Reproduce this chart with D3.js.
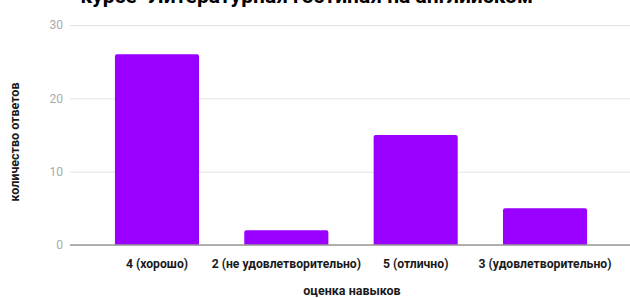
<!DOCTYPE html>
<html>
<head>
<meta charset="utf-8">
<script src="https://cdn.jsdelivr.net/npm/d3@7"></script>
<style>
  body { margin: 0; background: #fff; }
  svg text { font-family: Roboto, "Noto Sans", sans-serif; }
</style>
</head>
<body>
<svg id="chart" width="630" height="298"></svg>
<script>
"use strict";

// chart data
const categories = ["4 (хорошо)", "2 (не удовлетворительно)", "5 (отлично)", "3 (удовлетворительно)"];
const answers = [26, 2, 15, 5];
const yTicks = [0, 10, 20, 30];
const title = "курсе \"Литературная гостиная на английском\"";
const xTitle = "оценка навыков";
const yTitle = "количество ответов";

const svg = d3.select("#chart");

let x = d3.scaleBand()
  .domain(categories)
  .range([92.3, 609.7])
  .paddingInner(0.35)
  .paddingOuter(0.175);

let y = d3.scaleLinear().domain([0, 30]).range([245, 25]);

// gridlines + tick labels
let yAxis = d3.axisLeft(y).tickValues(yTicks).tickSize(-560).tickPadding(7);
let gy = svg.append("g").attr("transform", "translate(70,0)").call(yAxis);
gy.select(".domain").remove();
gy.selectAll(".tick line").attr("stroke", "#e3e3e3").attr("stroke-width", 1);
gy.selectAll(".tick text")
  .attr("fill", "#aaa")
  .attr("font-size", 12)
  .attr("font-family", "Roboto, sans-serif");

// bars with slightly rounded tops
const r = 2;
svg.append("g").selectAll("path")
  .data(answers)
  .join("path")
  .attr("fill", "#9900ff")
  .attr("d", (d, i) => {
    let x0 = x(categories[i]), w = x.bandwidth();
    let top = y(d), bot = y(0);
    return `M${x0},${bot}V${top + r}Q${x0},${top} ${x0 + r},${top}H${x0 + w - r}Q${x0 + w},${top} ${x0 + w},${top + r}V${bot}Z`;
  });

// baseline
svg.append("line")
  .attr("x1", 70).attr("x2", 630)
  .attr("y1", y(0)).attr("y2", y(0))
  .attr("stroke", "#999").attr("stroke-width", 1.3);

// category labels
let xAxis = d3.axisBottom(x).tickSize(0).tickPadding(14);
let gx = svg.append("g").attr("transform", `translate(0,${y(0)})`).call(xAxis);
gx.select(".domain").remove();
gx.selectAll(".tick text")
  .attr("fill", "#1a1a1a")
  .attr("font-size", 12.2)
  .attr("font-weight", "bold")
  .attr("font-family", "Roboto, sans-serif");

// titles (chart title is cropped at the top, as in the source image)
svg.append("text")
  .attr("x", 310).attr("y", 3)
  .attr("text-anchor", "middle")
  .attr("font-size", 21).attr("font-weight", "bold")
  .attr("fill", "#000")
  .text(title);

svg.append("text")
  .attr("x", 352).attr("y", 295)
  .attr("text-anchor", "middle")
  .attr("font-size", 12.5).attr("font-weight", "bold")
  .attr("fill", "#1a1a1a")
  .text(xTitle);

svg.append("text")
  .attr("transform", "translate(19,142) rotate(-90)")
  .attr("text-anchor", "middle")
  .attr("font-size", 12.5).attr("font-weight", "bold")
  .attr("fill", "#1a1a1a")
  .text(yTitle);
</script>
</body>
</html>
